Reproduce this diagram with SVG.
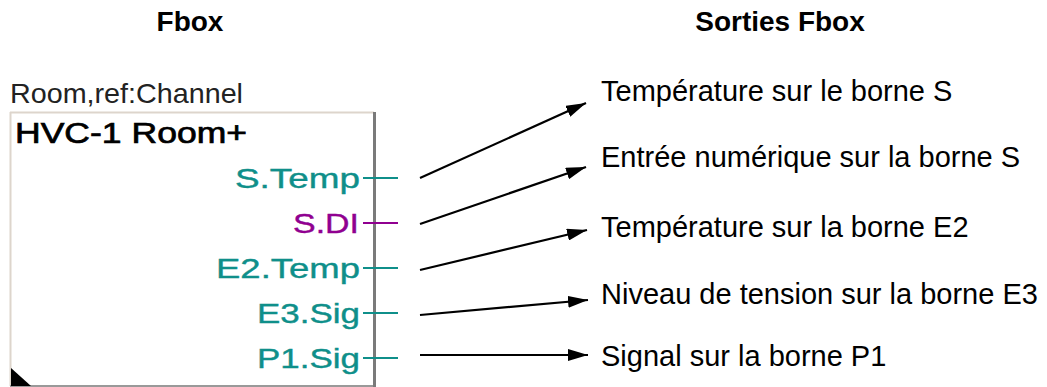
<svg xmlns="http://www.w3.org/2000/svg" width="1047" height="387" viewBox="0 0 1047 387">
  <style>
    .title { font-family: "Liberation Sans", Arial, sans-serif; font-size: 28px; font-weight: bold; fill: #000; text-anchor: middle; }
    .label { font-family: "Liberation Sans", Arial, sans-serif; font-size: 29px; fill: #000; }
    .box { font-family: "Liberation Sans", Arial, sans-serif; }
    .port { font-family: "Liberation Sans", Arial, sans-serif; font-size: 28px; text-anchor: end; stroke-width: 0.4; }
    .teal { fill: #0f8f8a; stroke: #0f8f8a; }
    .mag { fill: #900090; stroke: #900090; }
    .pline { stroke-width: 2; fill: none; }
    .arrow { stroke: #000; stroke-width: 2.2; fill: none; marker-end: url(#ah); }
  </style>
  <defs>
    <marker id="ah" markerUnits="userSpaceOnUse" markerWidth="21" markerHeight="12" refX="20" refY="6" orient="auto">
      <path d="M0,0 L20,6 L0,12 z" fill="#000"/>
    </marker>
  </defs>
  <rect width="1047" height="387" fill="#fff"/>

  <text class="title" x="190" y="31">Fbox</text>
  <text class="title" x="780" y="31">Sorties Fbox</text>

  <g id="fbox">
    <text class="box" x="10" y="103" font-size="28" textLength="233" lengthAdjust="spacingAndGlyphs" fill="#222">Room,ref:Channel</text>
    <line x1="10" y1="112.5" x2="374" y2="112.5" stroke="#ddd5cc" stroke-width="2"/>
    <line x1="10.5" y1="112" x2="10.5" y2="386" stroke="#ddd5cc" stroke-width="2"/>
    <line x1="10" y1="386" x2="376" y2="386" stroke="#999" stroke-width="2"/>
    <line x1="374.5" y1="112" x2="374.5" y2="387" stroke="#7a7a7a" stroke-width="3"/>
    <polygon points="11,368 11,386 31,386" fill="#000"/>
    <text class="box" x="15" y="143" font-size="29" textLength="232" lengthAdjust="spacingAndGlyphs" fill="#000" stroke="#000" stroke-width="0.7">HVC-1 Room+</text>

    <text class="port teal" x="360" y="188" textLength="125" lengthAdjust="spacingAndGlyphs">S.Temp</text>
    <text class="port mag" x="359" y="233" textLength="66" lengthAdjust="spacingAndGlyphs">S.DI</text>
    <text class="port teal" x="360" y="278" textLength="144" lengthAdjust="spacingAndGlyphs">E2.Temp</text>
    <text class="port teal" x="360" y="323" textLength="103" lengthAdjust="spacingAndGlyphs">E3.Sig</text>
    <text class="port teal" x="360" y="368" textLength="103" lengthAdjust="spacingAndGlyphs">P1.Sig</text>

    <line class="pline" x1="363" y1="178" x2="398" y2="178" stroke="#0f8f8a"/>
    <line class="pline" x1="363" y1="223" x2="398" y2="223" stroke="#900090"/>
    <line class="pline" x1="363" y1="268" x2="398" y2="268" stroke="#0f8f8a"/>
    <line class="pline" x1="363" y1="313" x2="398" y2="313" stroke="#0f8f8a"/>
    <line class="pline" x1="363" y1="358" x2="398" y2="358" stroke="#0f8f8a"/>
  </g>

  <g id="connectors">
    <line class="arrow" x1="420" y1="178" x2="586" y2="103"/>
    <line class="arrow" x1="420" y1="224" x2="586" y2="167"/>
    <line class="arrow" x1="420" y1="270" x2="587" y2="230"/>
    <line class="arrow" x1="420" y1="315" x2="588" y2="300"/>
    <line class="arrow" x1="420" y1="355" x2="588" y2="355"/>
  </g>

  <g id="out1"><text class="label" x="601" y="101">Température sur le borne S</text></g>
  <g id="out2"><text class="label" x="601" y="167">Entrée numérique sur la borne S</text></g>
  <g id="out3"><text class="label" x="601" y="237">Température sur la borne E2</text></g>
  <g id="out4"><text class="label" x="601" y="304">Niveau de tension sur la borne E3</text></g>
  <g id="out5"><text class="label" x="601" y="366">Signal sur la borne P1</text></g>
</svg>
